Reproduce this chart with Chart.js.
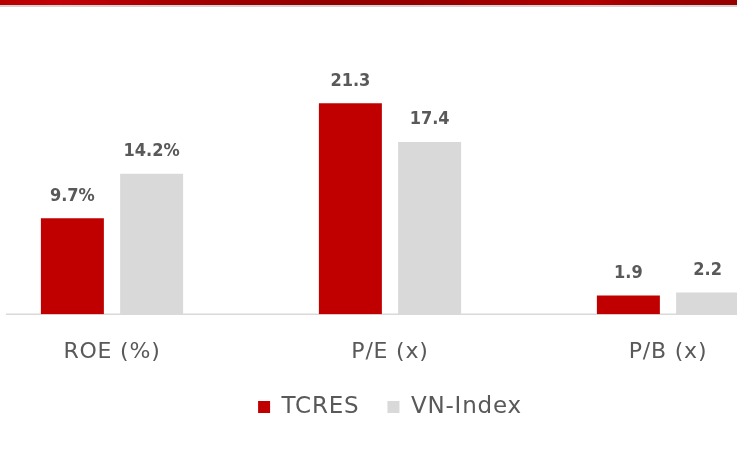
<!DOCTYPE html>
<html>
<head>
<meta charset="utf-8">
<script src="https://cdn.jsdelivr.net/npm/chart.js@4"></script>
<style>
  html, body { margin: 0; padding: 0; background: #fff; overflow: hidden; }
  body { width: 737px; height: 464px; position: relative; }
  #topbar { position: absolute; left: 0; top: 0; width: 737px; height: 5px;
    background: linear-gradient(90deg, #b80000 0%, #c40008 8%, #a50000 25%, #930000 45%, #9a0000 60%, #b30000 80%, #a00000 86%, #960000 100%); }
  #topline { position: absolute; left: 0; top: 5px; width: 737px; height: 2px; background: #d4d4d4; }
  #wrap { position: absolute; left: -27px; top: 0; width: 834px; height: 464px; }
</style>
</head>
<body>
<div id="topbar"></div>
<div id="topline"></div>
<div id="wrap"><canvas id="chart"></canvas></div>
<script>
// 数据
const categories = ['ROE (%)', 'P/E (x)', 'P/B (x)'];
const tcresValues = [9.7, 21.3, 1.9];
const vnIndexValues = [14.2, 17.4, 2.2];
const labelSuffix = ['%', '', ''];

const textColor = '#595959';
const fontFamily = "'DejaVu Sans', sans-serif";

// 柱顶数值标签
const valueLabels = {
  id: 'valueLabels',
  afterDatasetsDraw(chart) {
    const ctx = chart.ctx;
    ctx.save();
    ctx.letterSpacing = '0px';
    ctx.font = "bold 18px 'DejaVu Sans Condensed', sans-serif";
    ctx.fillStyle = textColor;
    ctx.textAlign = 'center';
    ctx.textBaseline = 'alphabetic';
    chart.data.datasets.forEach((ds, i) => {
      chart.getDatasetMeta(i).data.forEach((bar, j) => {
        ctx.fillText(ds.data[j].toFixed(1) + labelSuffix[j], bar.x, bar.y - 17.5);
      });
    });
    ctx.restore();
  }
};

// 横轴基线
const baseLine = {
  id: 'baseLine',
  beforeDatasetsDraw(chart) {
    const ctx = chart.ctx;
    const y = chart.scales.y.getPixelForValue(0);
    ctx.save();
    ctx.strokeStyle = '#d9d9d9';
    ctx.lineWidth = 1.5;
    ctx.beginPath();
    ctx.moveTo(33, y);
    ctx.lineTo(chart.chartArea.right, y);
    ctx.stroke();
    ctx.restore();
  }
};

// 字间距
const spacing = {
  id: 'spacing',
  beforeLayout(chart) { chart.ctx.letterSpacing = '0.8px'; },
  beforeDraw(chart) { chart.ctx.letterSpacing = '0.8px'; }
};

new Chart(document.getElementById('chart'), {
  type: 'bar',
  data: {
    labels: categories,
    datasets: [
      { label: 'TCRES', data: tcresValues, backgroundColor: '#c00000', borderWidth: 0,
        categoryPercentage: 0.57, barPercentage: 0.795 },
      { label: 'VN-Index', data: vnIndexValues, backgroundColor: '#d9d9d9', borderWidth: 0,
        categoryPercentage: 0.57, barPercentage: 0.795 }
    ]
  },
  options: {
    responsive: true,
    maintainAspectRatio: false,
    animation: false,
    layout: { padding: { top: 37, bottom: 35.5, left: 0, right: 0 } },
    plugins: {
      tooltip: { enabled: false },
      legend: {
        position: 'bottom',
        labels: {
          color: textColor,
          font: { family: fontFamily, size: 23 },
          boxWidth: 12,
          boxHeight: 12,
          padding: 28
        }
      }
    },
    scales: {
      x: {
        grid: { display: false },
        border: { display: false },
        ticks: { color: textColor, font: { family: fontFamily, size: 22 }, padding: 16.5 },
        afterFit(scale) { scale.height -= 14.2; }
      },
      y: { display: false, min: 0, max: 28 }
    }
  },
  plugins: [valueLabels, baseLine, spacing]
});
</script>
</body>
</html>
